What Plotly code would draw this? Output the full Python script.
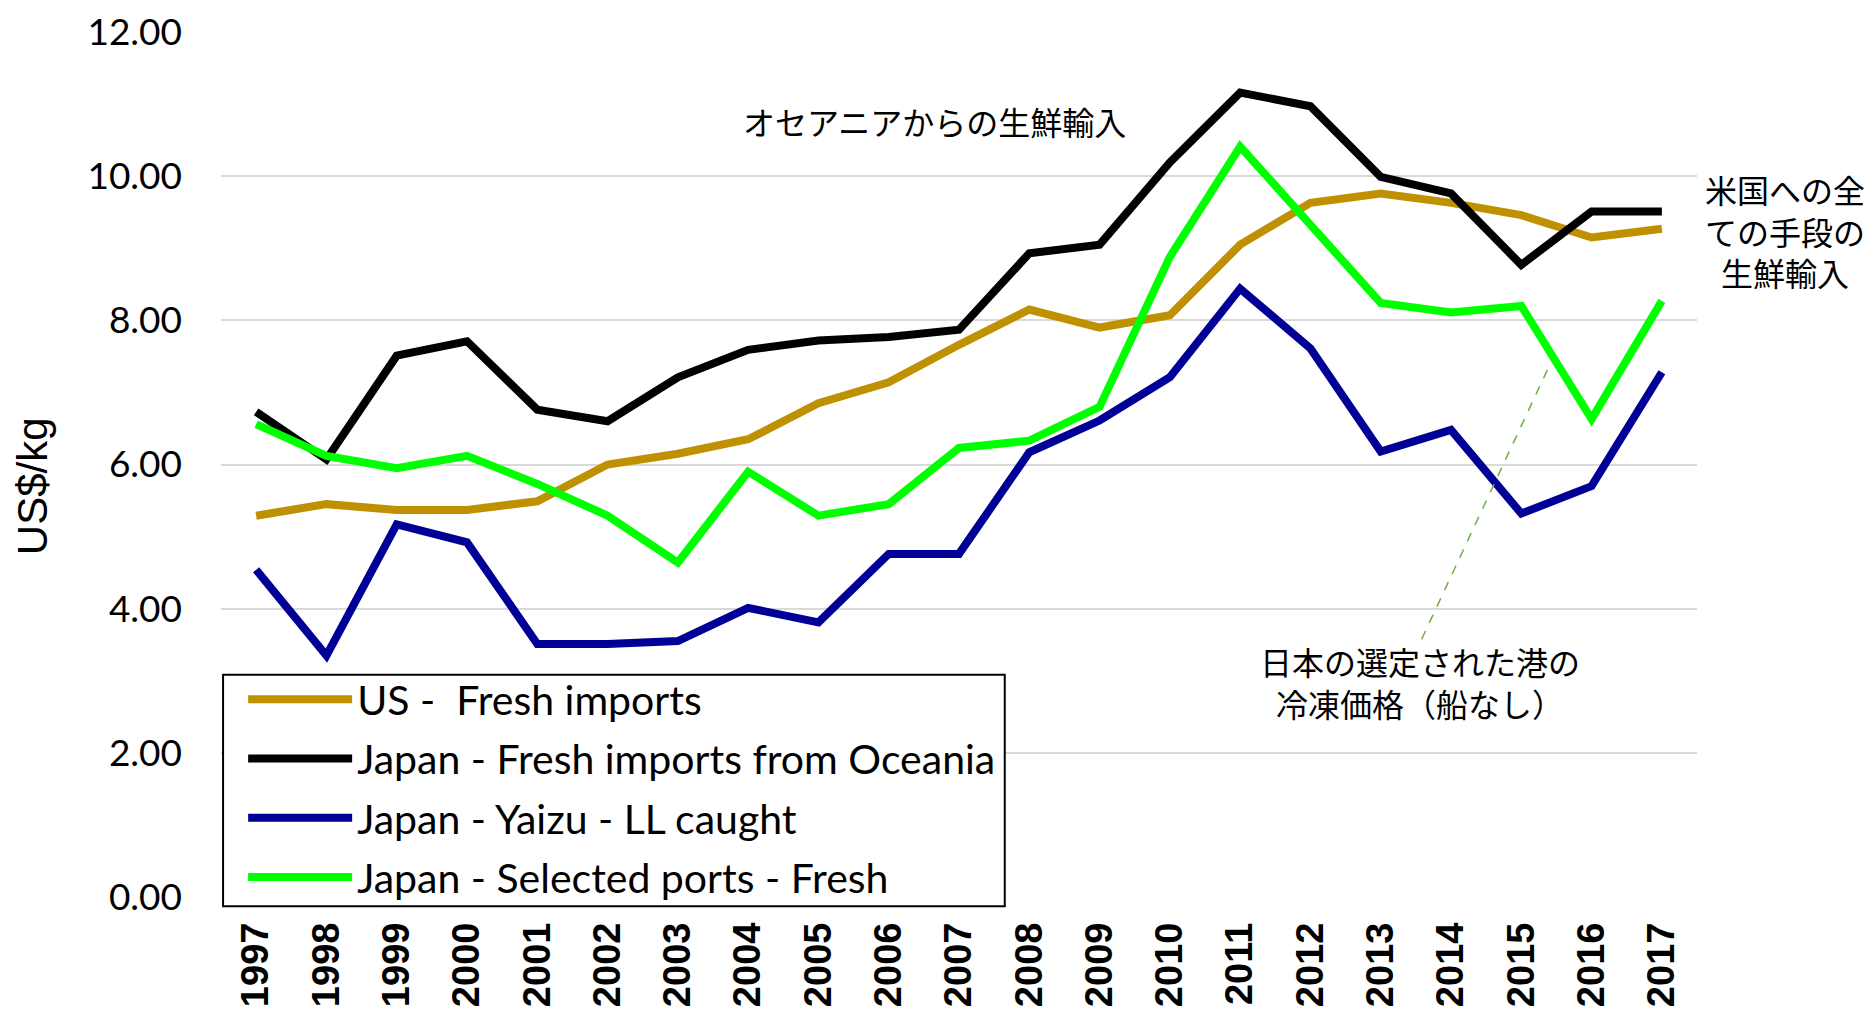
import plotly.graph_objects as go

years = list(range(1997, 2018))
us_fresh = [5.29, 5.45, 5.37, 5.37, 5.49, 6.00, 6.15, 6.35, 6.85, 7.14, 7.66,
            8.15, 7.90, 8.07, 9.05, 9.63, 9.76, 9.63, 9.46, 9.15, 9.27]
jp_oceania = [6.73, 6.07, 7.51, 7.71, 6.76, 6.60, 7.21, 7.59, 7.72, 7.77, 7.87,
              8.93, 9.05, 10.19, 11.16, 10.97, 9.99, 9.76, 8.77, 9.51, 9.51]
jp_yaizu = [4.54, 3.35, 5.17, 4.92, 3.51, 3.51, 3.55, 4.01, 3.81, 4.76, 4.76,
            6.17, 6.61, 7.21, 8.44, 7.61, 6.18, 6.48, 5.32, 5.70, 7.28]
jp_ports = [6.56, 6.12, 5.95, 6.12, 5.73, 5.29, 4.64, 5.90, 5.29, 5.45, 6.23,
            6.33, 6.80, 8.88, 10.41, 9.33, 8.24, 8.11, 8.20, 6.63, 8.27]

series_names = ["US -  Fresh imports", "Japan - Fresh imports from Oceania",
                "Japan - Yaizu - LL caught", "Japan - Selected ports - Fresh"]
series_values = [us_fresh, jp_oceania, jp_yaizu, jp_ports]
colors = ["#BF9000", "#000000", "#000096", "#00FF00"]

y_ticks = [0, 2, 4, 6, 8, 10, 12]
y_tick_labels = ["0.00", "2.00", "4.00", "6.00", "8.00", "10.00", "12.00"]

fig = go.Figure()
for i, (name, vals, col) in enumerate(zip(series_names, series_values, colors)):
    fig.add_trace(go.Scatter(x=years, y=vals, name=name, mode="lines",
                             line=dict(color=col, width=8),
                             legendgroup=f"g{i}"))

txt_font = dict(family="Noto Sans CJK JP", size=32, color="black")
fig.add_annotation(x=2006.65, y=10.76, xref="x", yref="y", text="オセアニアからの生鮮輸入",
                   showarrow=False, font=txt_font)
fig.add_annotation(x=1.0596, y=9.25, xref="paper", yref="y",
                   text="米国への全<br>ての手段の<br>生鮮輸入",
                   showarrow=False, font=txt_font, align="center",
                   xanchor="center", yanchor="middle")
fig.add_annotation(x=2013.56, y=2.98, xref="x", yref="y",
                   text="日本の選定された港の<br>冷凍価格（船なし）",
                   showarrow=False, font=txt_font, align="center")
fig.add_shape(type="line", x0=2015.37, y0=7.31, x1=2013.57, y1=3.55, xref="x", yref="y",
              line=dict(color="#70AD47", width=1.5, dash="dash"))
fig.add_annotation(x=-0.128, y=0.475, xref="paper", yref="paper", text="US$/kg",
                   textangle=-90, showarrow=False, xanchor="center", yanchor="middle",
                   font=dict(family="Liberation Sans, Arial", size=42, color="black"))

# legend frame
fig.add_shape(type="rect", xref="paper", yref="paper", x0=0.0014, x1=0.531,
              y0=-0.0107, y1=0.257, layer="above",
              fillcolor="white", line=dict(color="black", width=2))

fig.update_layout(
    width=1857, height=1007,
    margin=dict(l=213, r=168, t=24, b=118),
    plot_bgcolor="white", paper_bgcolor="white",
    showlegend=True,
    legend=dict(x=0.015, y=0.267, xanchor="left", yanchor="top",
                bgcolor="rgba(0,0,0,0)", borderwidth=0,
                font=dict(family="Lato, sans-serif", size=41, color="black"),
                traceorder="grouped", tracegroupgap=3, itemwidth=104),
    xaxis=dict(range=[1996.5, 2017.5], tickvals=years, ticktext=[str(y) for y in years],
               tickangle=-90, showgrid=False, zeroline=False, showline=False,
               automargin=False,
               tickfont=dict(family="Liberation Sans, Arial", size=38, color="black", weight="bold"),
               ticks="", ticklabelstandoff=17),
    yaxis=dict(range=[0, 12], tickvals=y_ticks, ticktext=y_tick_labels,
               showgrid=True, gridcolor="#D9D9D9", gridwidth=2, zeroline=False,
               automargin=False,
               tickfont=dict(family="Lato, sans-serif", size=37, color="black"),
               ticks="", ticklabelstandoff=38, ticklabeloverflow="allow"),
)

fig.write_html("out.html")
